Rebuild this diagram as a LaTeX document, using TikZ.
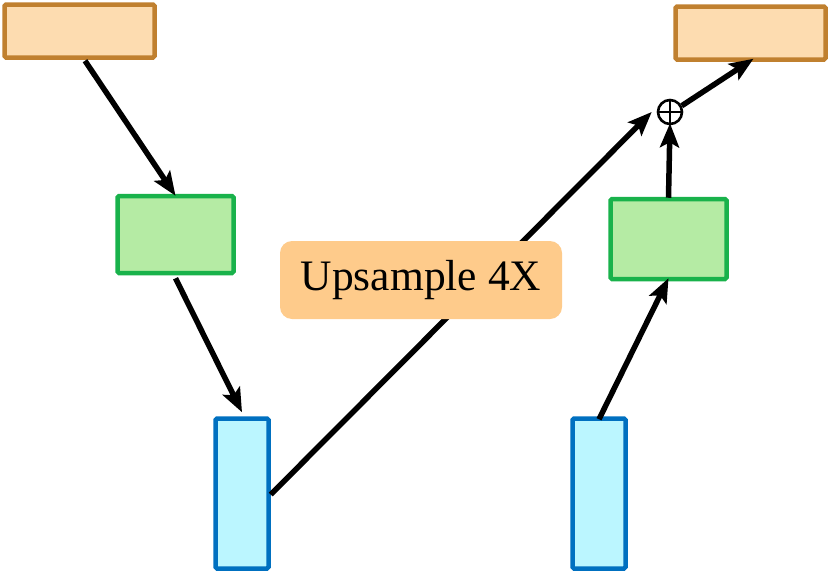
\documentclass[tikz,border=0pt]{standalone}
\usepackage{fontspec}
\setmainfont{Liberation Serif}
\usetikzlibrary{arrows.meta,calc}
\definecolor{orstroke}{HTML}{C0802F}
\definecolor{orfill}{HTML}{FDDCB0}
\definecolor{grstroke}{HTML}{19B24B}
\definecolor{grfill}{HTML}{B5EBA4}
\definecolor{blstroke}{HTML}{0070C0}
\definecolor{blfill}{HTML}{BBF6FF}
\definecolor{lblfill}{HTML}{FECB8B}
\tikzset{
  mybox/.style={rectangle, draw, line width=4.5pt, rounded corners=1.5pt, inner sep=0pt},
  orbox/.style={mybox, draw=orstroke, fill=orfill, minimum width=150pt, minimum height=53pt},
  grbox/.style={mybox, draw=grstroke, fill=grfill, minimum width=116pt, minimum height=77pt},
  blbox/.style={mybox, draw=blstroke, fill=blfill, minimum width=53pt, minimum height=150pt},
  conn/.style={draw, line width=5.5pt, -{Stealth[length=24pt,width=19pt,inset=5pt]}},
  lbl/.style={rectangle, rounded corners=12pt, fill=lblfill, minimum width=282pt, minimum height=78pt, inner sep=0pt, font=\fontsize{43.5}{50}\selectfont},
  opl/.style={circle, draw=black, line width=2.6pt, minimum size=24pt, inner sep=0pt,
    path picture={\draw[line width=2.6pt] (path picture bounding box.north) -- (path picture bounding box.south) (path picture bounding box.west) -- (path picture bounding box.east);}}
}
\begin{document}
\begin{tikzpicture}[x=1pt,y=-1pt]
\useasboundingbox (0,0) rectangle (830,573);
\node[orbox] (tl) at (79.5,31) {};
\node[orbox] (tr) at (750.5,33) {};
\node[grbox] (gl) at (175.5,234.5) {};
\node[grbox,minimum height=80pt] (gr) at (668.5,239) {};
\node[blbox] (bl) at (242,493.5) {};
\node[blbox] (br) at (599,493.5) {};
\node[opl] (op) at (670,112) {};
\path[conn] ([xshift=5.5pt,yshift=-1pt]tl.south) -- ([yshift=-2pt]gl.north);
\path[conn] ([yshift=-3pt]gl.south) -- ([yshift=4pt]bl.north);
\path[conn] ([yshift=-1pt]bl.east) -- ([xshift=-5pt]op.west);
\path[conn] ([yshift=-3pt]br.north) -- ([yshift=3pt]gr.south);
\path[conn] ([yshift=-1pt]gr.north) -- ([yshift=2pt]op.south);
\path[conn] (op.28) -- ([xshift=3pt,yshift=3pt]tr.south);
\node[lbl] (up) at (421,280) {Upsample 4X};
\end{tikzpicture}
\end{document}
